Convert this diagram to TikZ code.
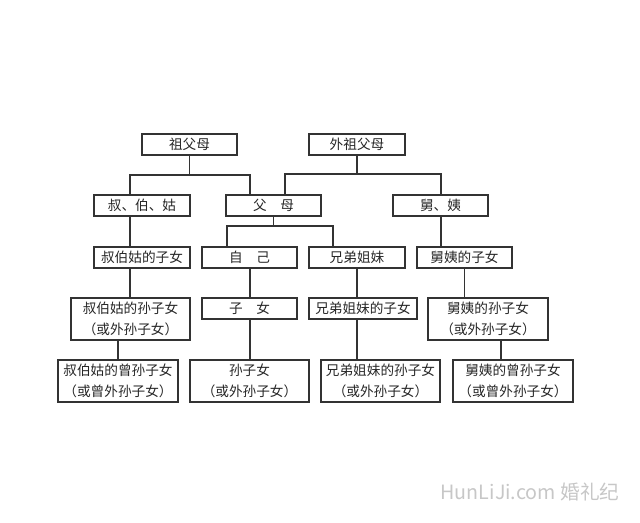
\documentclass[tikz,border=0pt]{standalone}
\usepackage{fontspec}
\setmainfont{Noto Sans CJK SC}
\usetikzlibrary{positioning}

\begin{document}
\begin{tikzpicture}[x=0.025cm, y=-0.025cm,
    every node/.style={font=\fontsize{9.7pt}{15pt}\selectfont, text=black!85},
    kin/.style={draw=black!80, line width=0.9pt, inner sep=0pt, align=center,
        minimum width={#1*0.025cm}, minimum height={21*0.025cm}},
    kin/.default=95,
    kin2/.style={kin=#1, minimum height={42*0.025cm}},
    link/.style={draw=black!80, line width=0.9pt}]
    \useasboundingbox (0,0) rectangle (640,523);

    % Grandparents
    \node[kin] (zfm) at (189.5,144.5) {祖父母};
    \node[kin=96] (wzfm) at (357,144.5) {外祖父母};

    % Parents' generation
    \node[kin=96] (sbg) at (142,205.5) {叔、伯、姑};
    \node[kin] (fm) at (273.5,205.5) {父\hspace{1em}母};
    \node[kin] (jy) at (440.5,205.5) {舅、姨};

    % Own generation
    \node[kin=96] (sbgzn) at (142,257.5) {叔伯姑的子女};
    \node[kin] (zj) at (249.5,257.5) {自\hspace{1em}己};
    \node[kin=96] (xdjm) at (357,257.5) {兄弟姐妹};
    \node[kin] (jyzn) at (464.5,257.5) {舅姨的子女};

    % Children
    \node[kin2=119] (sbgsz) at (130.5,319) {叔伯姑的孙子女\\（或外孙子女）};
    \node[kin] (zn) at (249.5,308.5) {子\hspace{1em}女};
    \node[kin=108] (xdjmzn) at (363,308.5) {兄弟姐妹的子女};
    \node[kin2=120] (jysz) at (488,319) {舅姨的孙子女\\（或外孙子女）};

    % Grandchildren
    \node[kin2=120] (sbgzs) at (118,381) {叔伯姑的曾孙子女\\（或曾外孙子女）};
    \node[kin2=119] (sz) at (249.5,381) {孙子女\\（或外孙子女）};
    \node[kin2=119] (xdjmsz) at (380.5,381) {兄弟姐妹的孙子女\\（或外孙子女）};
    \node[kin2=120] (jyzs) at (513,381) {舅姨的曾孙子女\\（或曾外孙子女）};

    % Forks
    \draw[link] (zfm.south) -- (zfm.south |- 0,175);
    \draw[link] (sbg.north -| 130,0) |- (zfm.south |- 0,175) -| (fm.north -| 250,0);
    \draw[link] (wzfm.south) -- (wzfm.south |- 0,174);
    \draw[link] (fm.north -| 285,0) |- (wzfm.south |- 0,174) -| (jy.north -| 441,0);
    \draw[link] (fm.south) -- (fm.south |- 0,226);
    \draw[link] (zj.north -| 227,0) |- (fm.south |- 0,226) -| (xdjm.north -| 333,0);

    % Straight lines
    \draw[link] (sbg.south -| 130,0) -- (sbgzn.north -| 130,0);
    \draw[link] (jy.south -| 441,0) -- (jyzn.north -| 441,0);
    \draw[link] (sbgzn.south -| 130,0) -- (sbgsz.north -| 130,0);
    \draw[link] (zj.south -| 250,0) -- (zn.north -| 250,0);
    \draw[link] (xdjm) -- (xdjmzn.north -| xdjm);
    \draw[link] (jyzn) -- (jysz.north -| jyzn);
    \draw[link] (sbgsz.south -| sbgzs) -- (sbgzs);
    \draw[link] (zn.south -| 250,0) -- (sz.north -| 250,0);
    \draw[link] (xdjmzn.south -| 357,0) -- (xdjmsz.north -| 357,0);
    \draw[link] (jysz.south -| 501,0) -- (jyzs.north -| 501,0);

    % Watermark
    \node[text=black!22, font=\fontsize{14pt}{14pt}\selectfont] (wm) at (530,492) {HunLiJi.com 婚礼纪};
\end{tikzpicture}
\end{document}
